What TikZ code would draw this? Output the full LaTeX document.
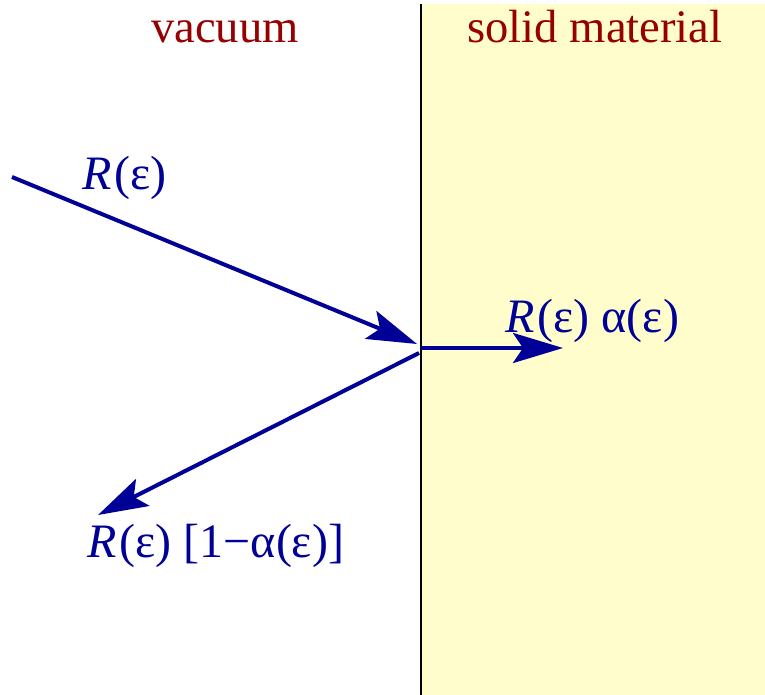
\documentclass[tikz,border=0pt]{standalone}
\usepackage{fontspec}
\setmainfont{Liberation Serif}
\usetikzlibrary{arrows.meta}
\definecolor{darkred}{RGB}{150,0,0}
\definecolor{navy}{RGB}{0,0,150}
\definecolor{solidbg}{RGB}{255,253,204}
\newcommand{\Rit}{\textit{R}\kern1.5pt}
\begin{document}
\begin{tikzpicture}[x=0.5pt,y=-0.5pt]
  \tikzstyle{head} = [font=\fontsize{23.3}{28}\selectfont, text=darkred, anchor=base, inner sep=0pt]
  \tikzstyle{lbl} = [font=\fontsize{24}{28}\selectfont, text=navy, anchor=base west, inner sep=0pt]
  \tikzstyle{beam} = [draw=navy, line width=2pt, -{Stealth[length=25pt, width=15pt, inset=5pt]}]
  \useasboundingbox (0,0) rectangle (765,695);
  % Bereiche
  \fill[solidbg] (421,4) rectangle (765,695);
  \draw[line width=0.6pt] (421,4) -- (421,695);
  \node[head] (vac) at (225,43) {vacuum};
  \node[head] (sol) at (595,43) {solid material};

  % Strahlen
  \coordinate (src) at (12,177);
  \coordinate (hit) at (417,344);
  \coordinate (entry) at (421,348);
  \coordinate (back) at (419,353);
  \coordinate (tin) at (563,348);
  \coordinate (tout) at (98,515);
  \draw[beam] (src) -- (hit);
  \draw[beam] (entry) -- (tin);
  \draw[beam] (back) -- (tout);

  % Beschriftungen
  \node[lbl] (rin) at (82,190) {\Rit(ε)};
  \node[lbl] (rabs) at (505,332) {\Rit(ε) α(ε)};
  \node[lbl] (rref) at (87,557) {\Rit(ε) [1−α(ε)]};
\end{tikzpicture}
\end{document}
